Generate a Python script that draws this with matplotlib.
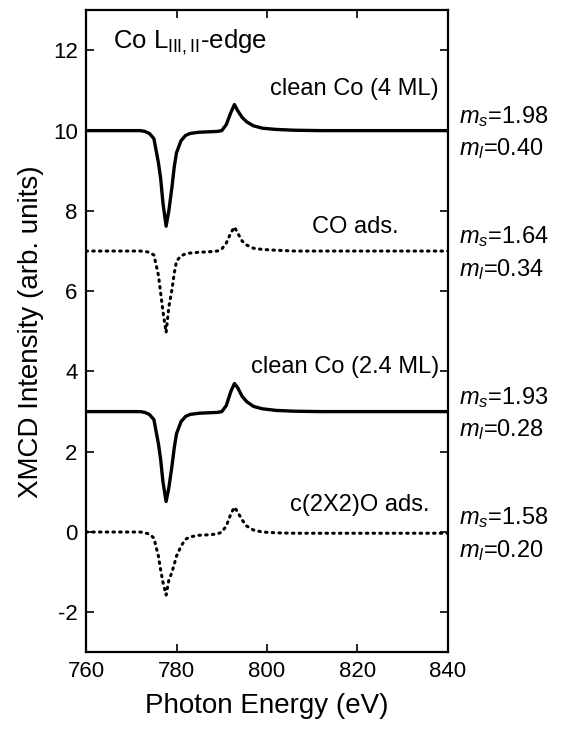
import numpy as np
import matplotlib
matplotlib.use("Agg")
import matplotlib.pyplot as plt

plt.rcParams['font.family'] = ['Liberation Sans', 'DejaVu Sans']
plt.rcParams['mathtext.fontset'] = 'custom'
plt.rcParams['mathtext.rm'] = 'Liberation Sans'
plt.rcParams['mathtext.it'] = 'Liberation Sans:italic'
plt.rcParams['axes.unicode_minus'] = False

# photon energy grid (eV)
energy = [760, 765, 770, 772, 773, 774, 775, 776, 776.5, 777, 777.7, 778.3, 779, 779.5,
          780, 781, 782, 783, 785, 787, 789, 790, 791, 792, 792.8, 793.5, 794.5, 795.5,
          797, 799, 802, 806, 812, 820, 830, 840]

# XMCD spectra (offset as in the original figure)
clean_4ml = [10.0, 10.0, 10.0, 10.0, 9.98, 9.93, 9.8, 9.2, 8.8, 8.2, 7.62, 8.0, 8.6, 9.1,
             9.45, 9.75, 9.88, 9.93, 9.96, 9.97, 9.98, 10.0, 10.15, 10.45, 10.65, 10.5, 10.33, 10.22,
             10.12, 10.06, 10.03, 10.01, 10.0, 10.0, 10.0, 10.0]
co_ads = [7.0, 7.0, 7.0, 7.0, 6.99, 6.97, 6.9, 6.4, 5.95, 5.5, 4.97, 5.6, 6.05, 6.45,
          6.75, 6.88, 6.93, 6.95, 6.97, 6.98, 7.0, 7.05, 7.2, 7.45, 7.6, 7.45, 7.25, 7.15,
          7.07, 7.04, 7.02, 7.0, 7.0, 7.0, 7.0, 7.0]
clean_24ml = [3.0, 3.0, 3.0, 3.0, 2.98, 2.93, 2.8, 2.2, 1.8, 1.25, 0.76, 1.1, 1.65, 2.1,
              2.45, 2.75, 2.88, 2.93, 2.96, 2.97, 2.98, 3.0, 3.15, 3.5, 3.7, 3.6, 3.38, 3.25,
              3.13, 3.07, 3.03, 3.01, 3.0, 3.0, 3.0, 3.0]
o_ads = [0.0, 0.0, 0.0, 0.0, -0.02, -0.05, -0.15, -0.6, -0.95, -1.25, -1.57, -1.2, -1.0, -0.8,
         -0.6, -0.35, -0.18, -0.12, -0.08, -0.07, -0.05, 0.0, 0.15, 0.45, 0.62, 0.5, 0.3, 0.15,
         0.05, 0.0, -0.02, -0.03, -0.03, -0.03, -0.03, -0.03]

curve_labels = ["clean Co (4 ML)", "CO ads.", "clean Co (2.4 ML)", "c(2X2)O ads."]
label_x = [838, 829, 838, 836]
label_y = [11.03, 7.6, 4.1, 0.67]
baselines = [10, 7, 3, 0]
ms_values = ["1.98", "1.64", "1.93", "1.58"]
ml_values = ["0.40", "0.34", "0.28", "0.20"]

fig = plt.figure(figsize=(5.66, 7.29), dpi=100)
ax = fig.add_axes([0.152, 0.105, 0.6395, 0.881])

solid = dict(color='black', lw=2.4, solid_joinstyle='round')
dotted = dict(color='black', lw=2.2, linestyle=(0, (0.5, 1.7)), dash_capstyle='round')

ax.plot(energy, clean_4ml, **solid)
ax.plot(energy, co_ads, **dotted)
ax.plot(energy, clean_24ml, **solid)
ax.plot(energy, o_ads, **dotted)

ax.set_xlim(760, 840)
ax.set_ylim(-3, 13)
ax.set_xticks(np.arange(760, 841, 20))
ax.set_yticks(np.arange(-2, 13, 2))
ax.tick_params(direction='in', length=6, width=1.2, top=True, right=True,
               labelsize=16, pad=6)
for s in ax.spines.values():
    s.set_linewidth(1.6)

ax.set_xlabel("Photon Energy (eV)", fontsize=20, labelpad=8)
ax.set_ylabel("XMCD Intensity (arb. units)", fontsize=20, labelpad=6)

ax.text(766, 12.2, r"Co L$_{\mathrm{III,II}}$-edge", fontsize=18.5, va='center', ha='left')

for lab, x, y in zip(curve_labels, label_x, label_y):
    ax.text(x, y, lab, fontsize=17, ha='right', va='center')

trans = ax.get_yaxis_transform()
for b, ms, ml in zip(baselines, ms_values, ml_values):
    ax.text(1.03, b + 0.35, r"$m_s$=" + ms, transform=trans, fontsize=17,
            ha='left', va='center', clip_on=False)
    ax.text(1.03, b - 0.45, r"$m_l$=" + ml, transform=trans, fontsize=17,
            ha='left', va='center', clip_on=False)

fig.savefig("out.png", dpi=100)
